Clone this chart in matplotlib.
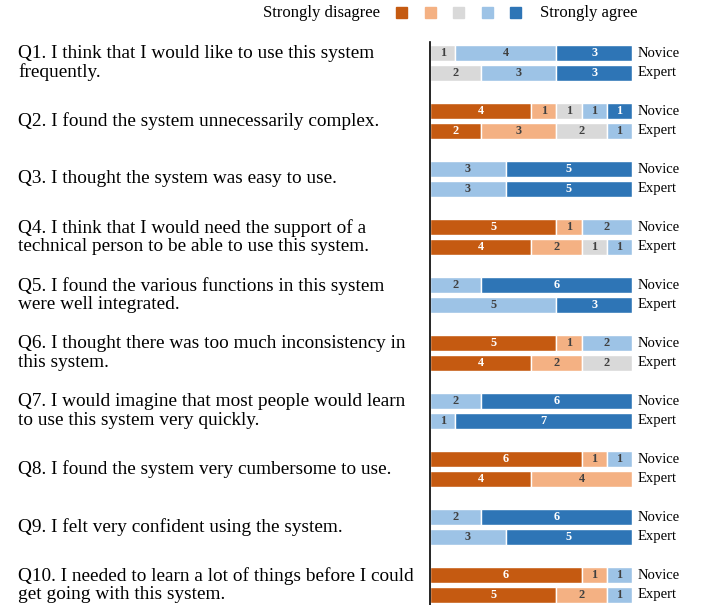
import matplotlib
matplotlib.use("Agg")
import matplotlib.pyplot as plt
from matplotlib.patches import Rectangle

plt.rcParams['font.family'] = ['Liberation Serif', 'DejaVu Serif']

questions = [
    "Q1. I think that I would like to use this system\nfrequently.",
    "Q2. I found the system unnecessarily complex.",
    "Q3. I thought the system was easy to use.",
    "Q4. I think that I would need the support of a\ntechnical person to be able to use this system.",
    "Q5. I found the various functions in this system\nwere well integrated.",
    "Q6. I thought there was too much inconsistency in\nthis system.",
    "Q7. I would imagine that most people would learn\nto use this system very quickly.",
    "Q8. I found the system very cumbersome to use.",
    "Q9. I felt very confident using the system.",
    "Q10. I needed to learn a lot of things before I could\nget going with this system.",
]
groups = ["Novice", "Expert"]
# counts per Likert level: strongly disagree, disagree, neutral, agree, strongly agree
novice = [
    [0, 0, 1, 4, 3],
    [4, 1, 1, 1, 1],
    [0, 0, 0, 3, 5],
    [5, 1, 0, 2, 0],
    [0, 0, 0, 2, 6],
    [5, 1, 0, 2, 0],
    [0, 0, 0, 2, 6],
    [6, 1, 0, 1, 0],
    [0, 0, 0, 2, 6],
    [6, 1, 0, 1, 0],
]
expert = [
    [0, 0, 2, 3, 3],
    [2, 3, 2, 1, 0],
    [0, 0, 0, 3, 5],
    [4, 2, 1, 1, 0],
    [0, 0, 0, 5, 3],
    [4, 2, 2, 0, 0],
    [0, 0, 0, 1, 7],
    [4, 4, 0, 0, 0],
    [0, 0, 0, 3, 5],
    [5, 2, 0, 1, 0],
]
colors = ["#C55A11", "#F4B183", "#D9D9D9", "#9DC3E6", "#2E75B6"]
label_colors = ["white", "#404040", "#404040", "#404040", "white"]
legend_left = "Strongly disagree"
legend_right = "Strongly agree"

W, H = 707, 605
fig = plt.figure(figsize=(W / 100, H / 100), dpi=100)
ax_left, ax_right = 430, 632
ax_top, ax_bot = 42, 605
ax = fig.add_axes([ax_left / W, (H - ax_bot) / H, (ax_right - ax_left) / W, (ax_bot - ax_top) / H])

off = 0.172
bh = 0.265
for i in range(len(questions)):
    for g, (data, dy) in enumerate(((novice, -off), (expert, off))):
        y = i + dy
        left = 0
        for k, v in enumerate(data[i]):
            if v == 0:
                continue
            ax.barh(y, v, left=left, height=bh, color=colors[k], edgecolor="white", linewidth=1.0)
            ax.text(left + v / 2, y, str(v), ha="center", va="center", fontsize=8.8,
                    fontweight="bold", color=label_colors[k])
            left += v
        ax.text(8.24, y, groups[g], ha="left", va="center", fontsize=10.5, color="black", clip_on=False)
    fig.text(18 / W, 1 - (63 + 58 * i) / H, questions[i], ha="left", va="center",
             fontsize=13.9, linespacing=1.13, color="black")

ax.set_xlim(0, 8)
ax.set_ylim(9.345, -0.362)
for s in ["top", "right", "bottom"]:
    ax.spines[s].set_visible(False)
ax.spines["left"].set_linewidth(1.2)
ax.spines["left"].set_color("black")
ax.set_xticks([])
ax.set_yticks([])

# legend
sq = 11
xs = [396, 425, 453, 482, 510]
for x0, c in zip(xs, colors):
    fig.patches.append(Rectangle((x0 / W, 1 - (7 + sq) / H), sq / W, sq / H,
                                 transform=fig.transFigure, color=c, figure=fig))
fig.text(380 / W, 1 - 13 / H, legend_left, ha="right", va="center", fontsize=12)
fig.text(540 / W, 1 - 13 / H, legend_right, ha="left", va="center", fontsize=12)

fig.savefig("out.png", dpi=100)
